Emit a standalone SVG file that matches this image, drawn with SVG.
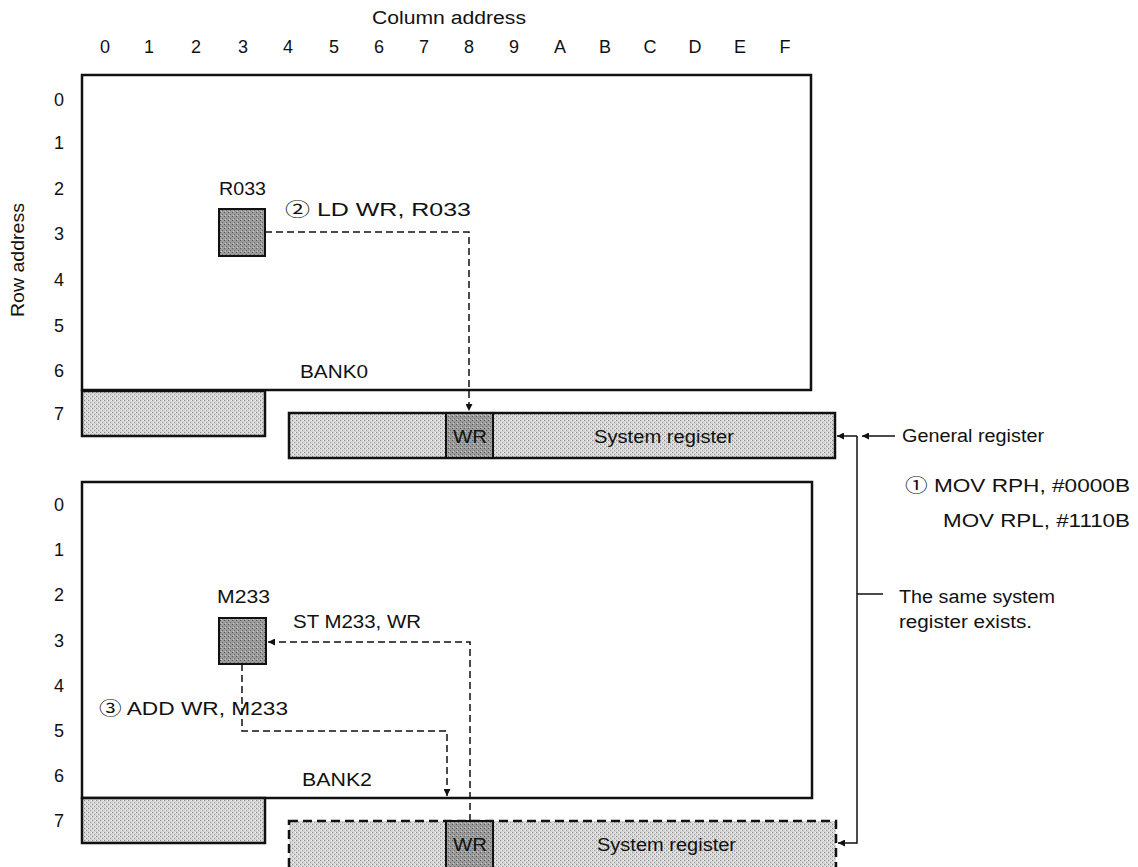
<svg xmlns="http://www.w3.org/2000/svg" width="1138" height="867" viewBox="0 0 1138 867">
<defs>
<marker id="ah" viewBox="0 0 10 10" refX="10" refY="5" markerWidth="11" markerHeight="7" markerUnits="userSpaceOnUse" orient="auto"><path d="M0,0 L10,5 L0,10 z" fill="#111"/></marker>
<pattern id="lt" width="4" height="4" patternUnits="userSpaceOnUse"><rect width="4" height="4" fill="#d4d4d4"/><rect x="0" y="0" width="1" height="1" fill="#8a8a8a"/><rect x="2" y="2" width="1" height="1" fill="#9a9a9a"/><rect x="3" y="0" width="1" height="1" fill="#f4f4f4"/><rect x="1" y="2" width="1" height="1" fill="#f4f4f4"/></pattern>
<pattern id="dk" width="4" height="4" patternUnits="userSpaceOnUse"><rect width="4" height="4" fill="#9c9c9c"/><rect x="0" y="0" width="1" height="1" fill="#555"/><rect x="2" y="2" width="1" height="1" fill="#666"/><rect x="1" y="3" width="1" height="1" fill="#c8c8c8"/></pattern>
</defs>
<style>
text{font-family:"Liberation Sans","Noto Sans CJK JP",sans-serif;font-size:18px;fill:#111}
.col{font-size:20px}
.box{fill:#fff;stroke:#111;stroke-width:2.5}
.lt{fill:url(#lt);stroke:#111;stroke-width:2.5}
.dk{fill:url(#dk);stroke:#111;stroke-width:2}
.dsh{fill:none;stroke:#111;stroke-width:1.5;stroke-dasharray:7,4}
.ln{fill:none;stroke:#111;stroke-width:1.5}
.c{text-anchor:middle}
</style>
<g id="axes">
<text x="372" y="24" textLength="154" lengthAdjust="spacingAndGlyphs">Column address</text>
<g class="c col">
<text x="105" y="53">0</text><text x="149" y="53">1</text><text x="196" y="53">2</text><text x="243" y="53">3</text><text x="288" y="53">4</text><text x="334" y="53">5</text><text x="379" y="53">6</text><text x="424" y="53">7</text><text x="469" y="53">8</text><text x="514" y="53">9</text><text x="560" y="53">A</text><text x="605" y="53">B</text><text x="650" y="53">C</text><text x="695" y="53">D</text><text x="740" y="53">E</text><text x="785" y="53">F</text>
</g>
<g class="c">
<text x="59" y="106">0</text><text x="59" y="149">1</text><text x="59" y="195">2</text><text x="59" y="240">3</text><text x="59" y="286">4</text><text x="59" y="332">5</text><text x="59" y="377">6</text><text x="59" y="420">7</text>
<text x="59" y="511">0</text><text x="59" y="556">1</text><text x="59" y="601">2</text><text x="59" y="647">3</text><text x="59" y="692">4</text><text x="59" y="737">5</text><text x="59" y="782">6</text><text x="59" y="827">7</text>
</g>
<text transform="translate(24,317) rotate(-90)" textLength="114" lengthAdjust="spacingAndGlyphs">Row address</text>
</g>
<g id="bank0">
<rect class="box" x="82" y="75" width="729" height="315"/>
<text x="300" y="378" textLength="68" lengthAdjust="spacingAndGlyphs">BANK0</text>
<rect class="lt" x="82" y="391" width="183" height="45"/>
</g>
<g id="r033">
<rect class="dk" x="219" y="209" width="46" height="47"/>
<text x="219" y="195" textLength="47" lengthAdjust="spacingAndGlyphs">R033</text>
</g>
<g id="sysreg0">
<rect class="lt" x="289" y="413" width="546" height="45"/>
<rect class="dk" x="446" y="413" width="47" height="45"/>
<text x="453" y="443" textLength="34" lengthAdjust="spacingAndGlyphs">WR</text>
<text x="594" y="443" textLength="140" lengthAdjust="spacingAndGlyphs">System register</text>
</g>
<g id="bank2">
<rect class="box" x="82" y="482" width="730" height="316"/>
<text x="302" y="786" textLength="70" lengthAdjust="spacingAndGlyphs">BANK2</text>
<rect class="lt" x="82" y="798" width="183" height="45"/>
</g>
<g id="m233">
<rect class="dk" x="219" y="618" width="47" height="46"/>
<text x="217" y="603" textLength="53" lengthAdjust="spacingAndGlyphs">M233</text>
</g>
<g id="sysreg2">
<rect x="289" y="821" width="547" height="50" fill="url(#lt)" stroke="#111" stroke-width="2.5" stroke-dasharray="9,5"/>
<rect class="dk" x="446" y="821" width="47" height="50"/>
<text x="453" y="851" textLength="34" lengthAdjust="spacingAndGlyphs">WR</text>
<text x="597" y="851" textLength="139" lengthAdjust="spacingAndGlyphs">System register</text>
</g>
<g id="connectors">
<path class="dsh" d="M265,232 H469 V411" marker-end="url(#ah)"/>
<path class="dsh" d="M470,821 V642 H268" marker-end="url(#ah)"/>
<path class="dsh" d="M242,664 V731 H447 V796" marker-end="url(#ah)"/>
<path class="ln" d="M857,436 H837" marker-end="url(#ah)"/>
<path class="ln" d="M857,436 V843 H838" marker-end="url(#ah)"/>
<path class="ln" d="M895,436 H862" marker-end="url(#ah)"/>
<path class="ln" d="M857,594 H883"/>
</g>
<g id="labels">
<text x="285" y="216" textLength="186" lengthAdjust="spacingAndGlyphs">② LD WR, R033</text>
<text x="293" y="628" textLength="128" lengthAdjust="spacingAndGlyphs">ST M233, WR</text>
<text x="99" y="715" textLength="189" lengthAdjust="spacingAndGlyphs">③ ADD WR, M233</text>
<text x="902" y="442" textLength="142" lengthAdjust="spacingAndGlyphs">General register</text>
<text x="905" y="492" textLength="225" lengthAdjust="spacingAndGlyphs">① MOV RPH, #0000B</text>
<text x="943" y="527" textLength="187" lengthAdjust="spacingAndGlyphs">MOV RPL, #1110B</text>
<text x="899" y="603" textLength="156" lengthAdjust="spacingAndGlyphs">The same system</text>
<text x="899" y="628" textLength="133" lengthAdjust="spacingAndGlyphs">register exists.</text>
</g>
</svg>
